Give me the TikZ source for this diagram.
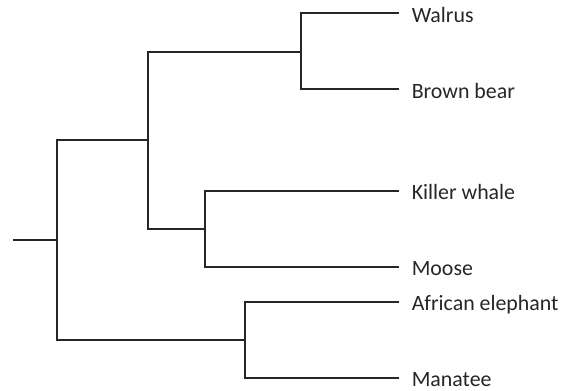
\documentclass[tikz,border=0pt]{standalone}
\usepackage{fontspec}
\setmainfont{Carlito}
\begin{document}
\begin{tikzpicture}[x=0.75pt,y=-0.75pt,
  branch/.style={line width=1.5pt, draw=black!85, line cap=rect},
  lbl/.style={anchor=base west, inner sep=0pt, font=\fontsize{16.4}{19}\selectfont, text=black!85}]
\useasboundingbox (0,0) rectangle (572,391);
% internal nodes
\coordinate (root) at (14,240);
\coordinate (n0) at (57,240);
\coordinate (n1) at (148,140);
\coordinate (n2) at (301,52);
\coordinate (n3) at (205,229);
\coordinate (n4) at (245,340);
% leaves
\coordinate (walrus) at (398,13.5);
\coordinate (bear) at (398,89.5);
\coordinate (whale) at (398,190.7);
\coordinate (moose) at (398,267.5);
\coordinate (eleph) at (398,301.7);
\coordinate (manatee) at (398,378);
% branches
\draw[branch] (root) -- (n0);
\draw[branch] (n0) |- (n1);
\draw[branch] (n0) |- (n4);
\draw[branch] (n1) |- (n2);
\draw[branch] (n1) |- (n3);
\draw[branch] (n2) |- (walrus);
\draw[branch] (n2) |- (bear);
\draw[branch] (n3) |- (whale);
\draw[branch] (n3) |- (moose);
\draw[branch] (n4) |- (eleph);
\draw[branch] (n4) |- (manatee);
% labels
\node[lbl] (tw) at ([shift={(13.5,9.5)}]walrus) {Walrus};
\node[lbl] (tb) at ([shift={(13.5,9)}]bear) {Brown bear};
\node[lbl] (tk) at ([shift={(13.5,9)}]whale) {Killer whale};
\node[lbl] (tm) at ([shift={(13.5,8.5)}]moose) {Moose};
\node[lbl] (te) at ([shift={(13.5,9)}]eleph) {African elephant};
\node[lbl] (tn) at ([shift={(13.5,9)}]manatee) {Manatee};
\end{tikzpicture}
\end{document}
